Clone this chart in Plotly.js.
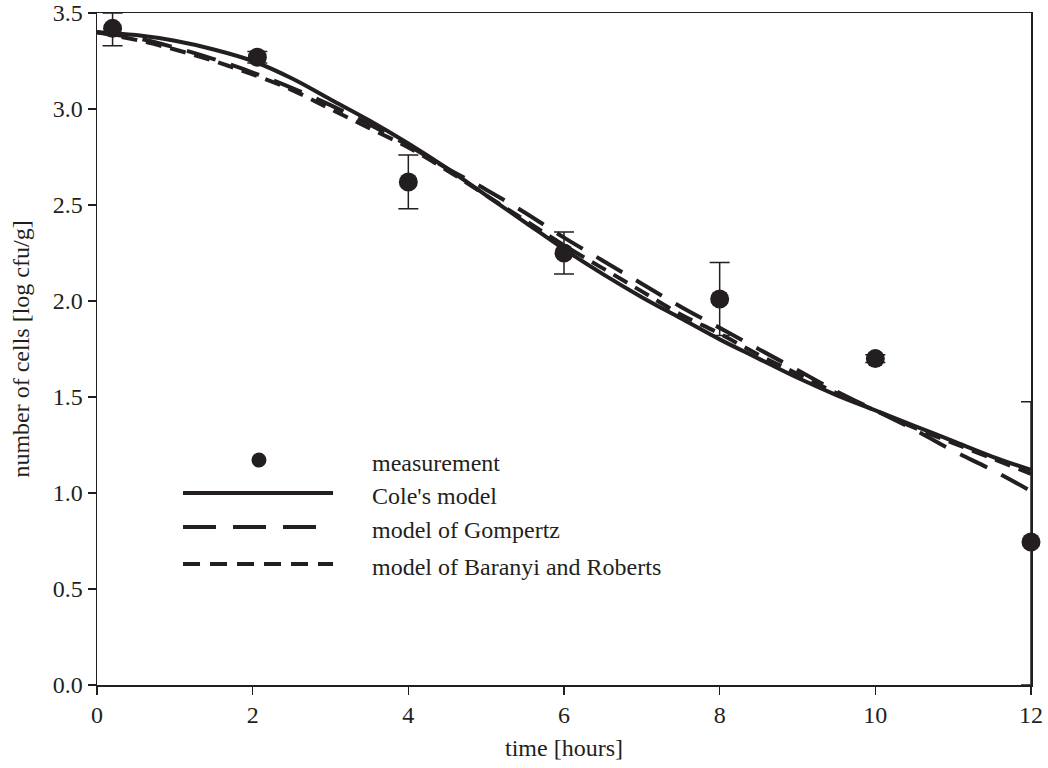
<!DOCTYPE html>
<html>
<head>
<meta charset="utf-8">
<script src="https://cdn.plot.ly/plotly-3.0.1.min.js"></script>
<style>html,body{margin:0;padding:0;background:#fff;}#chart{width:1048px;height:768px;}</style>
</head>
<body>
<div id="chart"></div>
<script>
// Measurements
var measTime = [0.2, 2.06, 4, 6, 8, 10, 12];
var measValue = [3.42, 3.27, 2.62, 2.25, 2.01, 1.70, 0.745];
var measErrPlus = [0.08, 0.03, 0.14, 0.11, 0.19, 0.02, 0.73];
var measErrMinus = [0.09, 0.03, 0.14, 0.11, 0.19, 0.02, 0.745];

// Model curves
var modelTime = [0, 0.5, 1, 1.5, 2, 2.5, 3, 3.5, 4, 4.5, 5, 5.5, 6, 6.5, 7, 7.5, 8, 8.5, 9, 9.5, 10, 10.5, 11, 11.5, 12];
var cole = [3.40, 3.385, 3.355, 3.31, 3.25, 3.16, 3.05, 2.94, 2.82, 2.69, 2.55, 2.41, 2.27, 2.14, 2.02, 1.91, 1.80, 1.70, 1.60, 1.51, 1.43, 1.35, 1.27, 1.19, 1.12];
var gompertz = [3.40, 3.37, 3.32, 3.26, 3.19, 3.11, 3.02, 2.92, 2.81, 2.69, 2.58, 2.46, 2.33, 2.21, 2.09, 1.97, 1.86, 1.75, 1.64, 1.53, 1.43, 1.33, 1.22, 1.12, 1.01];
var baranyi = [3.40, 3.36, 3.31, 3.25, 3.18, 3.10, 3.00, 2.90, 2.80, 2.68, 2.55, 2.42, 2.29, 2.17, 2.05, 1.93, 1.83, 1.72, 1.62, 1.52, 1.43, 1.34, 1.26, 1.18, 1.10];

var legendLabels = ["measurement", "Cole's model", "model of Gompertz", "model of Baranyi and Roberts"];
var xTicks = [0, 2, 4, 6, 8, 10, 12];
var yTicks = [0, 0.5, 1, 1.5, 2, 2.5, 3, 3.5];

var ink = '#231f20';
var font = '"Liberation Serif", "Times New Roman", serif';
var fs = 24;

var traces = [
  {x: modelTime, y: cole, mode: 'lines', line: {color: ink, width: 4, shape: 'spline'}, name: legendLabels[1]},
  {x: modelTime, y: gompertz, mode: 'lines', line: {color: ink, width: 4, dash: '30px,16px', shape: 'spline'}, name: legendLabels[2]},
  {x: modelTime, y: baranyi, mode: 'lines', line: {color: ink, width: 4, dash: '16px,9px', shape: 'spline'}, name: legendLabels[3]},
  {x: measTime, y: measValue, mode: 'markers', marker: {color: ink, size: 19},
   error_y: {type: 'data', symmetric: false, array: measErrPlus, arrayminus: measErrMinus, color: ink, thickness: 1.5, width: 10},
   name: legendLabels[0], cliponaxis: false}
];

// legend drawn manually in paper coordinates
var lx0 = 0.0921, lx1 = 0.2527, tx = 0.2923;
var rows = [0.3348, 0.2857, 0.2351, 0.180];
var shapes = [
  {type: 'circle', xref: 'paper', yref: 'paper', xsizemode: 'pixel', ysizemode: 'pixel',
   xanchor: 0.1734, yanchor: rows[0], x0: -7.5, x1: 7.5, y0: -7.5, y1: 7.5,
   fillcolor: ink, line: {color: ink, width: 0}},
  {type: 'line', xref: 'paper', yref: 'paper', x0: lx0, x1: lx1, y0: rows[1], y1: rows[1], line: {color: ink, width: 4}},
  {type: 'line', xref: 'paper', yref: 'paper', x0: lx0, x1: lx1, y0: rows[2], y1: rows[2], line: {color: ink, width: 4, dash: '33px,17px'}},
  {type: 'line', xref: 'paper', yref: 'paper', x0: lx0, x1: lx1, y0: rows[3], y1: rows[3], line: {color: ink, width: 4, dash: '17px,10px'}}
];
var annotations = legendLabels.map(function (t, i) {
  return {text: t, xref: 'paper', yref: 'paper', x: tx, y: rows[i] - 0.005, xanchor: 'left', yanchor: 'middle',
          showarrow: false, font: {family: font, size: fs, color: ink}};
});

var layout = {
  width: 1048, height: 768,
  margin: {l: 97, r: 17, t: 13, b: 83},
  paper_bgcolor: '#fff', plot_bgcolor: '#fff',
  showlegend: false,
  font: {family: font, size: fs, color: ink},
  xaxis: {
    range: [0, 12], tickvals: xTicks, ticktext: xTicks.map(String),
    showgrid: false, zeroline: false, showline: true, mirror: true, linecolor: ink, linewidth: 1.5,
    ticks: 'outside', ticklen: 8, tickwidth: 1.5, tickcolor: ink,
    tickfont: {family: font, size: fs, color: ink},
    title: {text: 'time [hours]', font: {family: font, size: fs, color: ink}, standoff: 12}
  },
  yaxis: {
    range: [0, 3.5], tickvals: yTicks, ticktext: yTicks.map(function (v) { return v.toFixed(1); }),
    showgrid: false, zeroline: false, showline: true, mirror: true, linecolor: ink, linewidth: 1.5,
    ticks: 'outside', ticklen: 8, tickwidth: 1.5, tickcolor: ink,
    tickfont: {family: font, size: fs, color: ink},
    title: {text: 'number of cells [log cfu/g]', font: {family: font, size: fs, color: ink}, standoff: 16}
  },
  shapes: shapes,
  annotations: annotations
};

Plotly.newPlot('chart', traces, layout, {displayModeBar: false, staticPlot: true});
</script>
</body>
</html>
